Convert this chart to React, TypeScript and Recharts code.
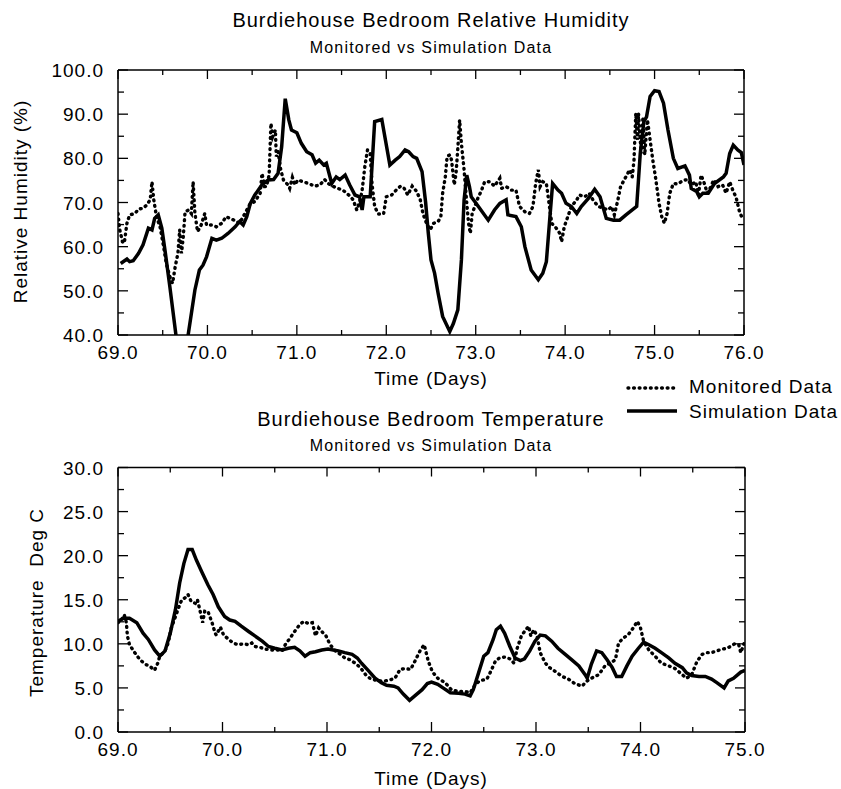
import React from 'react';
import { LineChart, Line, XAxis, YAxis } from 'recharts';

// ---------- Relative humidity: monitored ----------
const rhMonDays = [
  69.0, 69.02, 69.05, 69.07, 69.1, 69.13, 69.19, 69.23, 69.28, 69.32, 69.36, 69.38, 69.4, 69.43, 69.47,
  69.51, 69.54, 69.58, 69.61, 69.64, 69.67, 69.69, 69.71, 69.73, 69.75, 69.79, 69.82, 69.84, 69.86, 69.89,
  69.93, 69.97, 69.99, 70.05, 70.1, 70.16, 70.21, 70.25, 70.31, 70.36, 70.4, 70.44, 70.48, 70.53, 70.59,
  70.61, 70.64, 70.66, 70.69, 70.71, 70.73, 70.76, 70.77, 70.79, 70.82, 70.85, 70.9, 70.92, 70.95, 70.98,
  71.01, 71.07, 71.13, 71.2, 71.26, 71.31, 71.35, 71.41, 71.46, 71.52, 71.58, 71.63, 71.67, 71.71, 71.73,
  71.76, 71.79, 71.82, 71.84, 71.87, 71.91, 71.97, 72.0, 72.06, 72.11, 72.16, 72.2, 72.24, 72.29, 72.34,
  72.38, 72.41, 72.45, 72.49, 72.53, 72.58, 72.61, 72.63, 72.66, 72.68, 72.71, 72.73, 72.76, 72.78, 72.8,
  72.82, 72.84, 72.87, 72.9, 72.92, 72.94, 72.96, 72.99, 73.03, 73.06, 73.1, 73.16, 73.21, 73.27, 73.29,
  73.34, 73.4, 73.45, 73.49, 73.55, 73.6, 73.64, 73.67, 73.7, 73.72, 73.75, 73.79, 73.82, 73.85, 73.9,
  73.94, 73.96, 73.99, 74.03, 74.07, 74.13, 74.16, 74.22, 74.27, 74.31, 74.37, 74.43, 74.48, 74.52, 74.55,
  74.59, 74.62, 74.66, 74.7, 74.72, 74.75, 74.77, 74.79, 74.81, 74.82, 74.85, 74.87, 74.89, 74.92, 74.95,
  74.98, 75.01, 75.05, 75.08, 75.11, 75.14, 75.17, 75.21, 75.26, 75.32, 75.37, 75.41, 75.46, 75.49, 75.52,
  75.55, 75.59, 75.63, 75.66, 75.71, 75.76, 75.8, 75.84, 75.88, 75.91, 75.95, 75.99,
];
const rhMonVals = [
  67.5, 63.8, 61.1, 60.8, 65.3, 67.2, 67.5, 68.5, 68.7, 69.4, 70.6, 74.7, 70.6, 66.8, 64.5,
  60.0, 56.2, 53.2, 51.7, 55.5, 58.5, 63.8, 58.5, 62.3, 67.9, 68.3, 67.5, 74.7, 67.5, 63.4,
  64.9, 67.5, 64.9, 64.9, 64.5, 65.3, 66.8, 66.4, 65.9, 65.3, 66.8, 68.3, 69.8, 70.2, 72.1,
  76.6, 73.6, 73.6, 76.2, 87.9, 84.9, 86.4, 80.4, 81.5, 77.4, 75.1, 74.0, 73.2, 75.7, 74.0,
  75.1, 74.7, 74.3, 73.7, 74.0, 75.2, 74.3, 73.6, 73.2, 72.7, 71.7, 70.6, 68.3, 70.6, 72.8,
  78.1, 81.9, 81.1, 74.3, 69.1, 67.4, 67.4, 71.3, 71.7, 72.8, 73.7, 73.2, 71.7, 73.7, 72.5,
  70.6, 67.5, 65.3, 63.8, 65.3, 65.7, 66.8, 72.1, 75.8, 80.4, 80.8, 79.6, 74.0, 76.6, 82.3,
  88.7, 83.4, 77.4, 69.8, 65.3, 63.0, 67.5, 69.1, 71.3, 72.5, 74.7, 74.7, 73.7, 75.5, 73.2,
  73.6, 72.8, 72.8, 69.1, 67.9, 67.5, 69.1, 74.3, 77.4, 73.6, 74.7, 74.3, 69.8, 65.3, 64.2,
  63.0, 61.1, 64.5, 66.8, 69.1, 70.6, 71.7, 71.3, 72.1, 70.6, 69.1, 68.7, 68.3, 69.1, 67.2,
  70.6, 73.6, 75.1, 76.6, 77.4, 75.8, 79.6, 90.2, 84.2, 90.2, 81.1, 89.4, 80.8, 88.7, 84.2,
  79.6, 75.8, 69.8, 66.8, 65.3, 67.5, 72.1, 74.3, 74.2, 75.0, 75.2, 74.0, 74.7, 71.7, 76.2,
  74.7, 72.1, 73.6, 75.1, 73.6, 74.0, 72.1, 74.7, 72.5, 71.3, 67.9, 66.0,
];

// ---------- Relative humidity: simulation ----------
const rhSimDays = [
  69.03, 69.1, 69.13, 69.17, 69.23, 69.28, 69.34, 69.38, 69.41, 69.45, 69.49, 69.53, 69.58, 69.71, 69.86,
  69.91, 69.95, 69.99, 70.05, 70.1, 70.16, 70.23, 70.31, 70.36, 70.4, 70.44, 70.48, 70.53, 70.61, 70.68,
  70.74, 70.79, 70.83, 70.87, 70.91, 70.94, 71.0, 71.05, 71.11, 71.17, 71.21, 71.25, 71.3, 71.33, 71.39,
  71.44, 71.48, 71.54, 71.59, 71.65, 71.7, 71.73, 71.75, 71.82, 71.87, 71.95, 71.99, 72.04, 72.1, 72.15,
  72.21, 72.25, 72.3, 72.34, 72.4, 72.44, 72.47, 72.5, 72.54, 72.58, 72.63, 72.71, 72.75, 72.8, 72.84,
  72.87, 72.9, 72.93, 72.95, 73.03, 73.14, 73.21, 73.27, 73.34, 73.36, 73.45, 73.51, 73.55, 73.62, 73.7,
  73.75, 73.79, 73.83, 73.86, 73.92, 73.96, 74.01, 74.07, 74.13, 74.18, 74.26, 74.33, 74.39, 74.46, 74.54,
  74.61, 74.68, 74.8, 74.84, 74.88, 74.91, 74.95, 75.0, 75.05, 75.1, 75.15, 75.21, 75.26, 75.34, 75.39,
  75.41, 75.47, 75.5, 75.54, 75.6, 75.67, 75.77, 75.8, 75.84, 75.88, 75.93, 75.97, 76.0,
];
const rhSimVals = [
  56.2, 57.2, 56.6, 56.8, 58.5, 60.4, 64.2, 63.8, 66.4, 67.2, 64.2, 58.5, 50.9, 30.0, 50.2,
  54.7, 55.8, 57.7, 61.9, 61.5, 61.9, 63.0, 64.5, 65.7, 64.9, 66.8, 69.8, 71.7, 74.0, 75.1,
  75.2, 76.6, 82.6, 93.5, 88.7, 86.4, 85.8, 83.4, 81.5, 80.8, 78.9, 79.6, 78.5, 78.9, 74.3,
  75.8, 75.2, 76.2, 74.0, 71.7, 71.3, 68.3, 71.3, 71.3, 88.3, 88.8, 84.2, 78.5, 79.6, 80.4,
  81.9, 81.5, 80.4, 80.0, 77.0, 70.0, 63.0, 57.0, 54.0, 49.4, 44.2, 40.8, 42.6, 45.7, 57.0,
  70.6, 76.2, 73.6, 71.3, 69.1, 66.0, 68.3, 69.8, 70.6, 67.2, 66.8, 64.5, 60.0, 54.7, 52.5,
  54.0, 56.6, 66.8, 74.3, 72.8, 72.1, 69.8, 69.1, 67.5, 69.1, 70.9, 73.0, 71.3, 66.4, 66.0,
  66.0, 67.2, 69.1, 81.1, 88.3, 89.4, 94.0, 95.3, 95.1, 92.5, 86.4, 80.0, 77.7, 78.3, 76.2,
  73.2, 72.5, 71.3, 72.1, 72.1, 74.3, 75.8, 76.6, 81.1, 83.0, 81.9, 81.3, 78.5,
];

// ---------- Temperature: monitored ----------
const tMonDays = [
  69.0, 69.04, 69.06, 69.08, 69.09, 69.11, 69.16, 69.21, 69.26, 69.31, 69.35, 69.38, 69.4, 69.45, 69.48,
  69.51, 69.55, 69.58, 69.61, 69.64, 69.67, 69.7, 69.74, 69.76, 69.79, 69.81, 69.83, 69.86, 69.9, 69.93,
  69.94, 69.98, 70.01, 70.06, 70.1, 70.15, 70.2, 70.25, 70.28, 70.31, 70.36, 70.41, 70.47, 70.54, 70.57,
  70.6, 70.65, 70.69, 70.74, 70.78, 70.82, 70.86, 70.89, 70.92, 70.95, 70.99, 71.03, 71.08, 71.13, 71.17,
  71.22, 71.27, 71.32, 71.37, 71.41, 71.46, 71.51, 71.56, 71.6, 71.65, 71.7, 71.75, 71.8, 71.84, 71.89,
  71.93, 71.97, 72.01, 72.06, 72.13, 72.19, 72.26, 72.32, 72.37, 72.42, 72.46, 72.53, 72.56, 72.61, 72.65,
  72.7, 72.75, 72.79, 72.82, 72.86, 72.89, 72.93, 72.95, 72.98, 73.01, 73.04, 73.09, 73.13, 73.18, 73.25,
  73.31, 73.37, 73.44, 73.49, 73.53, 73.6, 73.66, 73.71, 73.76, 73.79, 73.84, 73.88, 73.93, 73.97, 74.0,
  74.03, 74.08, 74.14, 74.2, 74.27, 74.33, 74.4, 74.44, 74.49, 74.54, 74.59, 74.64, 74.68, 74.73, 74.78,
  74.83, 74.86, 74.9, 74.94, 74.96, 74.99,
];
const tMonVals = [
  12.4, 12.8, 13.3, 12.4, 10.9, 9.9, 9.0, 8.2, 7.7, 7.4, 7.0, 7.8, 8.6, 9.2, 10.1,
  11.8, 13.1, 14.1, 15.0, 15.2, 15.6, 14.8, 14.6, 15.0, 13.5, 12.4, 13.7, 13.7, 12.4, 11.2,
  11.0, 11.9, 11.0, 10.5, 10.1, 9.9, 10.0, 9.9, 10.1, 9.7, 9.6, 9.4, 9.3, 9.3, 9.2,
  9.9, 10.7, 11.4, 12.2, 12.55, 12.3, 12.4, 10.9, 11.8, 11.4, 10.9, 9.9, 9.2, 8.8, 8.4,
  8.2, 7.8, 7.3, 6.5, 6.1, 5.9, 5.8, 5.8, 5.9, 6.1, 7.1, 7.2, 7.1, 8.0, 9.2,
  9.9, 8.0, 6.8, 6.1, 5.6, 4.8, 4.6, 4.6, 4.45, 5.4, 5.8, 6.0, 6.7, 8.0, 8.4,
  8.5, 8.3, 7.8, 9.5, 10.9, 11.4, 12.0, 10.9, 11.6, 10.9, 9.0, 7.8, 7.3, 6.9, 6.3,
  6.0, 5.5, 5.2, 5.8, 6.1, 6.5, 7.5, 7.8, 8.2, 10.1, 10.7, 11.0, 11.8, 12.55, 11.8,
  10.3, 9.3, 8.6, 7.8, 7.5, 7.2, 6.5, 6.1, 6.5, 8.0, 8.8, 9.0, 9.0, 9.2, 9.4,
  9.5, 9.7, 10.0, 9.9, 9.0, 10.0,
];

// ---------- Temperature: simulation ----------
const tSimDays = [
  69.0, 69.05, 69.11, 69.18, 69.24, 69.29, 69.35, 69.4, 69.45, 69.5, 69.55, 69.59, 69.63, 69.67, 69.71,
  69.75, 69.8, 69.86, 69.91, 69.96, 70.02, 70.07, 70.12, 70.18, 70.25, 70.31, 70.38, 70.44, 70.5, 70.57,
  70.63, 70.69, 70.74, 70.79, 70.84, 70.89, 70.95, 71.01, 71.06, 71.11, 71.17, 71.24, 71.29, 71.33, 71.4,
  71.46, 71.52, 71.57, 71.64, 71.68, 71.73, 71.79, 71.84, 71.91, 71.96, 72.0, 72.06, 72.11, 72.18, 72.26,
  72.32, 72.37, 72.4, 72.45, 72.5, 72.54, 72.59, 72.62, 72.66, 72.7, 72.75, 72.8, 72.85, 72.89, 72.94,
  72.99, 73.04, 73.09, 73.15, 73.21, 73.28, 73.34, 73.41, 73.47, 73.49, 73.53, 73.58, 73.63, 73.68, 73.73,
  73.77, 73.82, 73.87, 73.92, 73.98, 74.03, 74.08, 74.14, 74.2, 74.27, 74.33, 74.4, 74.44, 74.49, 74.56,
  74.62, 74.68, 74.73, 74.8, 74.84, 74.89, 74.96, 75.0,
];
const tSimVals = [
  12.55, 12.9, 12.9, 12.4, 11.2, 10.5, 9.3, 8.6, 9.2, 11.2, 13.9, 16.9, 19.1, 20.7, 20.7,
  19.5, 18.2, 16.7, 15.6, 14.2, 13.1, 12.7, 12.55, 12.0, 11.4, 10.9, 10.3, 9.7, 9.5, 9.3,
  9.5, 9.6, 9.2, 8.6, 9.0, 9.1, 9.3, 9.4, 9.3, 9.2, 9.0, 8.8, 8.4, 7.8, 6.9,
  6.1, 5.6, 5.3, 5.2, 5.0, 4.3, 3.6, 4.1, 4.8, 5.5, 5.65, 5.4, 5.0, 4.45, 4.4,
  4.3, 4.1, 4.8, 6.7, 8.6, 9.0, 10.5, 11.6, 12.0, 11.2, 9.7, 8.4, 8.1, 8.3, 9.2,
  10.3, 11.0, 10.9, 10.3, 9.5, 8.8, 8.2, 7.5, 6.5, 6.1, 7.7, 9.2, 9.0, 8.2, 7.3,
  6.3, 6.3, 7.5, 8.6, 9.5, 10.2, 9.9, 9.5, 9.0, 8.4, 7.8, 7.3, 6.7, 6.4, 6.3,
  6.3, 6.0, 5.6, 5.0, 5.8, 6.1, 6.8, 7.0,
];

// ---------- Axis ticks ----------
const rhXTicks = [69, 69.5, 70, 70.5, 71, 71.5, 72, 72.5, 73, 73.5, 74, 74.5, 75, 75.5, 76];
const rhYTicks = [40, 45, 50, 55, 60, 65, 70, 75, 80, 85, 90, 95, 100];
const tXTicks = [69, 69.5, 70, 70.5, 71, 71.5, 72, 72.5, 73, 73.5, 74, 74.5, 75];
const tYTicks = [0, 2.5, 5, 7.5, 10, 12.5, 15, 17.5, 20, 22.5, 25, 27.5, 30];

const FONT = '"Liberation Sans", Arial, Helvetica, sans-serif';
const txt = { fontFamily: FONT, fontSize: 19, letterSpacing: 1, fill: '#000' } as React.CSSProperties;

const toPoints = (days: number[], vals: number[]) => days.map((d, i) => ({ day: d, value: vals[i] }));
const isMult = (v: number, step: number) => Math.abs(v / step - Math.round(v / step)) < 1e-6;

type Frame = { left: number; right: number; top: number; bottom: number };

const leftTick = (step: number, f: Frame) => (p: any) => {
  const { y, payload } = p;
  const major = isMult(payload.value, step);
  return (
    <g>
      <line x1={f.left} y1={y} x2={f.left + (major ? 10 : 6)} y2={y} stroke="#000" strokeWidth={1.3} />
      {major && (
        <text x={f.left - 14} y={y + 7} textAnchor="end" style={txt}>
          {Number(payload.value).toFixed(1)}
        </text>
      )}
    </g>
  );
};
const rightTick = (step: number, f: Frame) => (p: any) => {
  const { y, payload } = p;
  const major = isMult(payload.value, step);
  return <line x1={f.right} y1={y} x2={f.right - (major ? 10 : 6)} y2={y} stroke="#000" strokeWidth={1.3} />;
};
const bottomTick = (f: Frame) => (p: any) => {
  const { x, payload } = p;
  const major = isMult(payload.value, 1);
  return (
    <g>
      <line x1={x} y1={f.bottom} x2={x} y2={f.bottom - (major ? 10 : 5)} stroke="#000" strokeWidth={1.3} />
      {major && (
        <text x={x} y={f.bottom + 24} textAnchor="middle" style={txt}>
          {Number(payload.value).toFixed(1)}
        </text>
      )}
    </g>
  );
};
const topTick = (f: Frame) => (p: any) => {
  const { x, payload } = p;
  const major = isMult(payload.value, 1);
  return <line x1={x} y1={f.top} x2={x} y2={f.top + (major ? 9 : 5)} stroke="#000" strokeWidth={1.3} />;
};

const axisLine = { stroke: '#000', strokeWidth: 1.5 };

type PanelProps = {
  width: number;
  height: number;
  frame: Frame;
  xDomain: [number, number];
  yDomain: [number, number];
  xTicks: number[];
  yTicks: number[];
  yStep: number;
  mon: { day: number; value: number }[];
  sim: { day: number; value: number }[];
};

const Panel = ({ width, height, frame, xDomain, yDomain, xTicks, yTicks, yStep, mon, sim }: PanelProps) => {
  const margin = {
    top: frame.top - 1,
    right: width - frame.right - 1,
    bottom: height - frame.bottom - 30,
    left: 0,
  };
  return (
    <LineChart width={width} height={height} margin={margin}>
      <XAxis
        dataKey="day"
        type="number"
        domain={xDomain}
        ticks={xTicks}
        interval={0}
        allowDataOverflow
        height={30}
        tickSize={0}
        tickMargin={0}
        tickLine={false}
        axisLine={axisLine}
        tick={bottomTick(frame)}
      />
      <XAxis
        xAxisId="top"
        orientation="top"
        dataKey="day"
        type="number"
        domain={xDomain}
        ticks={xTicks}
        interval={0}
        allowDataOverflow
        height={1}
        tickSize={0}
        tickMargin={0}
        tickLine={false}
        axisLine={axisLine}
        tick={topTick(frame)}
      />
      <YAxis
        type="number"
        domain={yDomain}
        ticks={yTicks}
        interval={0}
        allowDataOverflow
        width={frame.left}
        tickSize={0}
        tickMargin={0}
        tickLine={false}
        axisLine={axisLine}
        tick={leftTick(yStep, frame)}
      />
      <YAxis
        yAxisId="right"
        orientation="right"
        type="number"
        domain={yDomain}
        ticks={yTicks}
        interval={0}
        allowDataOverflow
        width={1}
        tickSize={0}
        tickMargin={0}
        tickLine={false}
        axisLine={axisLine}
        tick={rightTick(yStep, frame)}
      />
      {/* invisible series bound to the top/right axes so that the frame axes are drawn */}
      <Line
        xAxisId="top"
        yAxisId="right"
        data={sim}
        dataKey="value"
        stroke="none"
        strokeWidth={0}
        dot={false}
        activeDot={false}
        legendType="none"
        isAnimationActive={false}
      />
      <Line
        data={mon}
        dataKey="value"
        type="linear"
        stroke="#000"
        strokeWidth={3.4}
        strokeDasharray="0.8 4.8"
        strokeLinecap="round"
        dot={false}
        activeDot={false}
        isAnimationActive={false}
      />
      <Line
        data={sim}
        dataKey="value"
        type="linear"
        stroke="#000"
        strokeWidth={3.5}
        strokeLinejoin="miter"
        dot={false}
        activeDot={false}
        isAnimationActive={false}
      />
    </LineChart>
  );
};

export default function App() {
  const rhMon = toPoints(rhMonDays, rhMonVals);
  const rhSim = toPoints(rhSimDays, rhSimVals);
  const tMon = toPoints(tMonDays, tMonVals);
  const tSim = toPoints(tSimDays, tSimVals);

  return (
    <div style={{ position: 'absolute', left: 0, top: 0, width: 841, height: 789, background: '#fff' }}>
      <div style={{ position: 'absolute', left: 0, top: 0 }}>
        <Panel
          width={841}
          height={400}
          frame={{ left: 118, right: 744, top: 70, bottom: 335 }}
          xDomain={[69, 76]}
          yDomain={[40, 100]}
          xTicks={rhXTicks}
          yTicks={rhYTicks}
          yStep={10}
          mon={rhMon}
          sim={rhSim}
        />
      </div>
      <div style={{ position: 'absolute', left: 0, top: 400 }}>
        <Panel
          width={841}
          height={389}
          frame={{ left: 118, right: 745, top: 67.5, bottom: 332 }}
          xDomain={[69, 75]}
          yDomain={[0, 30]}
          xTicks={tXTicks}
          yTicks={tYTicks}
          yStep={5}
          mon={tMon}
          sim={tSim}
        />
      </div>
      <svg
        width={841}
        height={789}
        style={{ position: 'absolute', left: 0, top: 0, pointerEvents: 'none' }}
      >
        <text x={431} y={27} textAnchor="middle" style={{ ...txt, fontSize: 20 }}>
          Burdiehouse Bedroom Relative Humidity
        </text>
        <text x={431} y={53} textAnchor="middle" style={{ ...txt, fontSize: 16, letterSpacing: 1.2 }}>
          Monitored vs Simulation Data
        </text>
        <text x={431} y={385} textAnchor="middle" style={txt}>
          Time (Days)
        </text>
        <text transform="translate(27,201.5) rotate(-90)" textAnchor="middle" style={txt}>
          Relative Humidity (%)
        </text>

        <line x1={628} y1={388} x2={677} y2={388} stroke="#000" strokeWidth={3.4} strokeDasharray="0.8 4.8" strokeLinecap="round" />
        <text x={689} y={393} style={txt}>Monitored Data</text>
        <line x1={627} y1={411} x2={677} y2={411} stroke="#000" strokeWidth={3.5} />
        <text x={689} y={418} style={txt}>Simulation Data</text>

        <text x={431} y={426} textAnchor="middle" style={{ ...txt, fontSize: 20 }}>
          Burdiehouse Bedroom Temperature
        </text>
        <text x={431} y={451} textAnchor="middle" style={{ ...txt, fontSize: 16, letterSpacing: 1.2 }}>
          Monitored vs Simulation Data
        </text>
        <text x={431} y={785} textAnchor="middle" style={txt}>
          Time (Days)
        </text>
        <text transform="translate(43,602.5) rotate(-90)" textAnchor="middle" style={{ ...txt, whiteSpace: 'pre' }}>
          {'Temperature  Deg C'}
        </text>
      </svg>
    </div>
  );
}
